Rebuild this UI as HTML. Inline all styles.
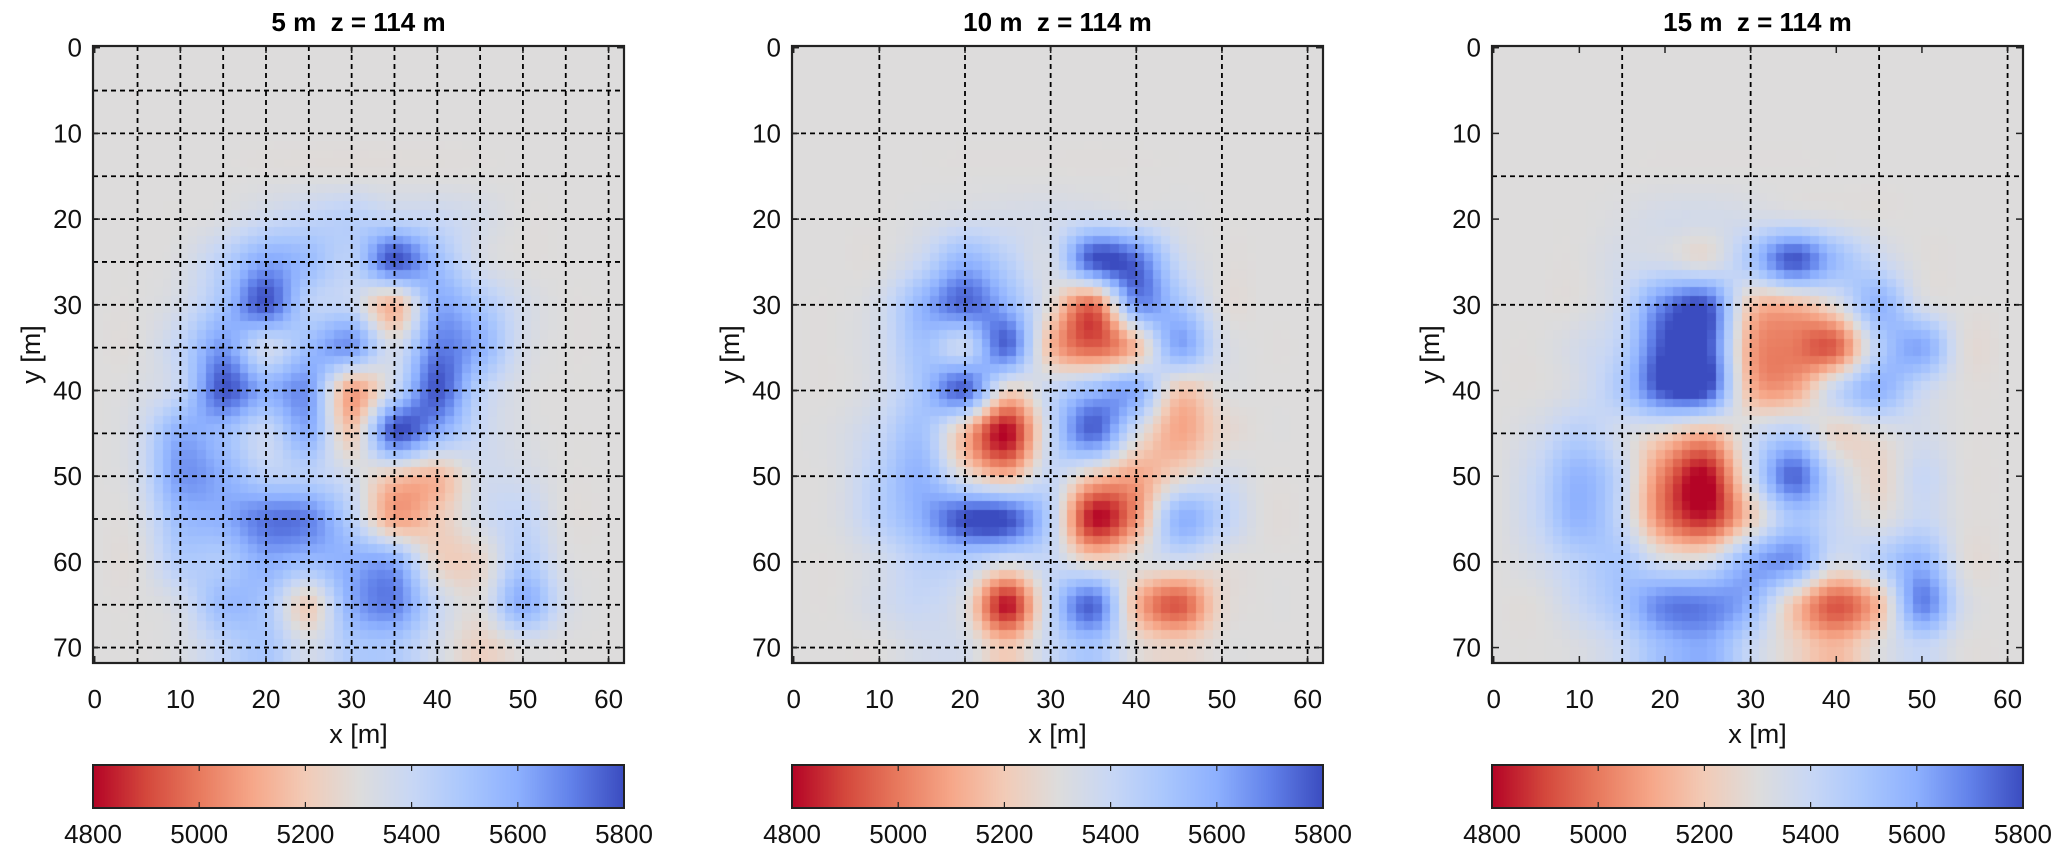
<!DOCTYPE html>
<html><head><meta charset="utf-8">
<style>
html,body{margin:0;padding:0;background:#fff;}
body{width:2067px;height:864px;position:relative;overflow:hidden;font-family:"Liberation Sans",Arial,sans-serif;}
canvas{position:absolute;}
svg{position:absolute;left:0;top:0;}
svg text{white-space:pre;}
</style></head>
<body>
<canvas id="c1" width="2067" height="864" style="left:0;top:0"></canvas>
<svg id="s" width="2067" height="864"></svg>
<script>
// node grid (5 m spacing) x = 0..60, y = 0..70
const xNodes=[0,5,10,15,20,25,30,35,40,45,50,55,60];
const yNodes=[0,5,10,15,20,25,30,35,40,45,50,55,60,65,70];
const titles=["5 m  z = 114 m","10 m  z = 114 m","15 m  z = 114 m"];
const gridSteps=[5,10,15];
const xTicks=[0,10,20,30,40,50,60];
const yTicks=[0,10,20,30,40,50,60,70];
const cbTicks=[4800,5000,5200,5400,5600,5800];
const B=[5300,5300,5300,5300,5300,5300,5300,5300,5300,5300,5300,5300,5300];
const field1=[B,B,B,B,
[5300,5300,5300,5320,5380,5420,5450,5420,5400,5350,5300,5300,5300],
[5300,5300,5320,5450,5620,5550,5450,5780,5550,5350,5300,5300,5300],
[5300,5300,5350,5520,5780,5450,5400,5150,5600,5500,5350,5300,5300],
[5300,5300,5420,5650,5380,5550,5650,5350,5700,5600,5350,5300,5300],
[5300,5320,5420,5780,5600,5650,5100,5400,5780,5450,5320,5300,5300],
[5300,5350,5600,5550,5400,5600,5200,5780,5600,5400,5320,5300,5300],
[5300,5350,5650,5600,5450,5450,5350,5200,5150,5350,5350,5300,5300],
[5300,5320,5550,5600,5720,5700,5450,5100,5200,5350,5420,5300,5300],
[5300,5300,5470,5480,5600,5550,5600,5600,5250,5250,5470,5320,5300],
[5300,5300,5350,5550,5500,5220,5600,5700,5400,5300,5600,5350,5300],
[5300,5300,5320,5420,5500,5350,5480,5480,5350,5230,5300,5300,5300]];
const field2=[B,B,B,B,
[5300,5300,5300,5320,5350,5350,5350,5380,5350,5320,5300,5300,5300],
[5300,5300,5300,5400,5580,5450,5350,5780,5750,5400,5300,5300,5300],
[5300,5300,5350,5580,5750,5580,5280,4980,5650,5520,5300,5300,5300],
[5300,5300,5350,5520,5400,5750,5150,4950,5150,5620,5350,5300,5300],
[5300,5300,5350,5520,5750,5250,5400,5550,5600,5200,5300,5300,5300],
[5300,5320,5400,5520,5150,4800,5400,5750,5350,5100,5250,5300,5300],
[5300,5320,5450,5580,5300,5150,5400,5200,5100,5250,5350,5300,5300],
[5300,5320,5450,5600,5800,5800,5450,4820,5050,5580,5450,5300,5300],
[5300,5300,5350,5450,5450,5350,5400,5250,5300,5350,5300,5300,5300],
[5300,5300,5350,5400,5300,4820,5420,5750,5150,4930,5250,5300,5300],
[5300,5300,5300,5350,5350,5200,5400,5500,5300,5250,5300,5300,5300]];
const field3=[B,B,B,B,
[5300,5300,5300,5320,5350,5350,5350,5350,5320,5300,5300,5300,5300],
[5300,5300,5300,5350,5350,5300,5500,5780,5550,5400,5300,5300,5300],
[5300,5300,5300,5400,5700,5780,5200,5150,5300,5580,5350,5300,5300],
[5300,5300,5350,5450,5800,5800,5100,5000,4950,5450,5620,5300,5300],
[5300,5300,5350,5500,5800,5800,5150,5100,5400,5580,5400,5300,5300],
[5300,5350,5450,5350,5250,5150,5350,5450,5250,5300,5350,5300,5300],
[5300,5400,5580,5400,5000,4800,5350,5750,5400,5250,5400,5300,5300],
[5300,5400,5580,5400,5000,4850,5200,5500,5400,5300,5400,5300,5300],
[5300,5350,5450,5500,5350,5350,5600,5650,5350,5450,5580,5300,5300],
[5300,5300,5400,5520,5700,5700,5580,5200,4930,5150,5700,5350,5300],
[5300,5300,5320,5400,5550,5600,5400,5250,5150,5300,5400,5300,5300]];
const fields=[field1,field2,field3];

const panelLeft=[93,792,1492], PT=46, PW=531, PH=617;
const XMIN=-0.2,XMAX=61.8,YMIN=-0.2,YMAX=71.8;
const CB_T=765,CB_H=43,VMIN=4800,VMAX=5800;
function sx(p,v){return panelLeft[p]+(v-XMIN)/(XMAX-XMIN)*PW;}
function sy(v){return PT+(v-YMIN)/(YMAX-YMIN)*PH;}
function cbx(p,v){return panelLeft[p]+(v-VMIN)/(VMAX-VMIN)*PW;}

const cmS=[0,0.1,0.2,0.3,0.4,0.5,0.6,0.7,0.8,0.9,1];
const cmC=[[59,76,192],[98,130,234],[141,176,254],[170,199,253],[200,215,245],[221,220,220],[242,203,183],[246,167,137],[232,122,94],[212,72,60],[180,4,38]];
function cmap(v){
  let t=(VMAX-v)/(VMAX-VMIN); t=Math.max(0,Math.min(1,t));
  let i=Math.min(9,Math.floor(t*10)); let f=(t-cmS[i])/0.1;
  const a=cmC[i],b=cmC[i+1];
  return `rgb(${Math.round(a[0]+(b[0]-a[0])*f)},${Math.round(a[1]+(b[1]-a[1])*f)},${Math.round(a[2]+(b[2]-a[2])*f)})`;
}
function cr(p0,p1,p2,p3,t){return 0.5*((2*p1)+(-p0+p2)*t+(2*p0-5*p1+4*p2-p3)*t*t+(-p0+3*p1-3*p2+p3)*t*t*t);}
function sample(F,x,y){
  const gx=Math.max(0,Math.min(12,x/5)), gy=Math.max(0,Math.min(14,y/5));
  let i=Math.min(11,Math.floor(gx)), j=Math.min(13,Math.floor(gy));
  const tx=gx-i, ty=gy-j;
  const g=(a,b)=>F[Math.max(0,Math.min(14,b))][Math.max(0,Math.min(12,a))];
  const rows=[];
  for(let k=-1;k<=2;k++) rows.push(cr(g(i-1,j+k),g(i,j+k),g(i+1,j+k),g(i+2,j+k),tx));
  return cr(rows[0],rows[1],rows[2],rows[3],ty);
}
const ctx=document.getElementById('c1').getContext('2d');
for(let p=0;p<3;p++){
  const F=fields[p];
  for(let yy=-1;yy<72;yy++){
    for(let xx=-1;xx<62;xx++){
      const v=sample(F,xx+0.5,yy+0.5);
      ctx.fillStyle=cmap(v);
      const x0=Math.max(panelLeft[p],sx(p,xx)), x1=Math.min(panelLeft[p]+PW,sx(p,xx+1));
      const y0=Math.max(PT,sy(yy)), y1=Math.min(PT+PH,sy(yy+1));
      if(x1>x0&&y1>y0) ctx.fillRect(Math.floor(x0),Math.floor(y0),Math.ceil(x1-Math.floor(x0)),Math.ceil(y1-Math.floor(y0)));
    }
  }
  for(let k=0;k<PW;k++){
    ctx.fillStyle=cmap(VMIN+(k+0.5)/PW*(VMAX-VMIN));
    ctx.fillRect(panelLeft[p]+k,CB_T,1,CB_H);
  }
}
const NS="http://www.w3.org/2000/svg";
const svg=document.getElementById('s');
function el(tag,attrs,parent){const e=document.createElementNS(NS,tag);for(const k in attrs)e.setAttribute(k,attrs[k]);(parent||svg).appendChild(e);return e;}
for(let p=0;p<3;p++){
  const L=panelLeft[p];
  const g=el('g',{});
  
  
  const step=gridSteps[p];
  for(let v=step;v<62;v+=step){
    const l=el('line',{x1:sx(p,v),x2:sx(p,v),y1:PT,y2:PT+PH,stroke:'#000','stroke-width':1.8,'stroke-dasharray':'5,4'},g);
    
    
  }
  for(let v=step;v<72;v+=step){
    const l=el('line',{x1:L,x2:L+PW,y1:sy(v),y2:sy(v),stroke:'#000','stroke-width':1.8,'stroke-dasharray':'5,4'},g);
    
    
  }
  const box=el('rect',{x:L,y:PT,width:PW,height:PH,fill:'none',stroke:'#222','stroke-width':2.2},g);
  
  
  xTicks.forEach(v=>{
    const x=sx(p,v);
    el('line',{x1:x,x2:x,y1:PT+PH,y2:PT+PH-7,stroke:'#222','stroke-width':1.5},g);
    el('line',{x1:x,x2:x,y1:PT,y2:PT+7,stroke:'#222','stroke-width':1.5},g);
    const t=el('text',{x:x,y:708,'text-anchor':'middle','font-size':26,fill:'#111'},g);
    t.textContent=v;
    
    
  });
  yTicks.forEach(v=>{
    const y=sy(v);
    el('line',{x1:L,x2:L+7,y1:y,y2:y,stroke:'#222','stroke-width':1.5},g);
    el('line',{x1:L+PW,x2:L+PW-7,y1:y,y2:y,stroke:'#222','stroke-width':1.5},g);
    const t=el('text',{x:L-11,y:y+9,'text-anchor':'end','font-size':26,fill:'#111'},g);
    t.textContent=v;
    
    
  });
  const ti=el('text',{x:L+PW/2,y:31,'text-anchor':'middle','font-size':26,'font-weight':'bold',fill:'#000'},g);
  ti.textContent=titles[p];
  
  
  const xl=el('text',{x:L+PW/2,y:743,'text-anchor':'middle','font-size':27,fill:'#111'},g);
  xl.textContent='x [m]';
  
  
  const yl=el('text',{x:0,y:0,'text-anchor':'middle','font-size':27,fill:'#111',transform:`translate(${L-53},${PT+PH/2}) rotate(-90)`},g);
  yl.textContent='y [m]';
  
  
  const cb=el('rect',{x:L,y:CB_T,width:PW,height:CB_H,fill:'none',stroke:'#222','stroke-width':2},g);
  
  
  cbTicks.forEach(v=>{
    const x=cbx(p,v);
    el('line',{x1:x,x2:x,y1:CB_T+CB_H,y2:CB_T+CB_H-6,stroke:'#222','stroke-width':1.2},g);
    el('line',{x1:x,x2:x,y1:CB_T,y2:CB_T+6,stroke:'#222','stroke-width':1.2},g);
    const t=el('text',{x:x,y:843,'text-anchor':'middle','font-size':26,fill:'#111'},g);
    t.textContent=v;
    
    
  });
}
</script>
</body></html>
